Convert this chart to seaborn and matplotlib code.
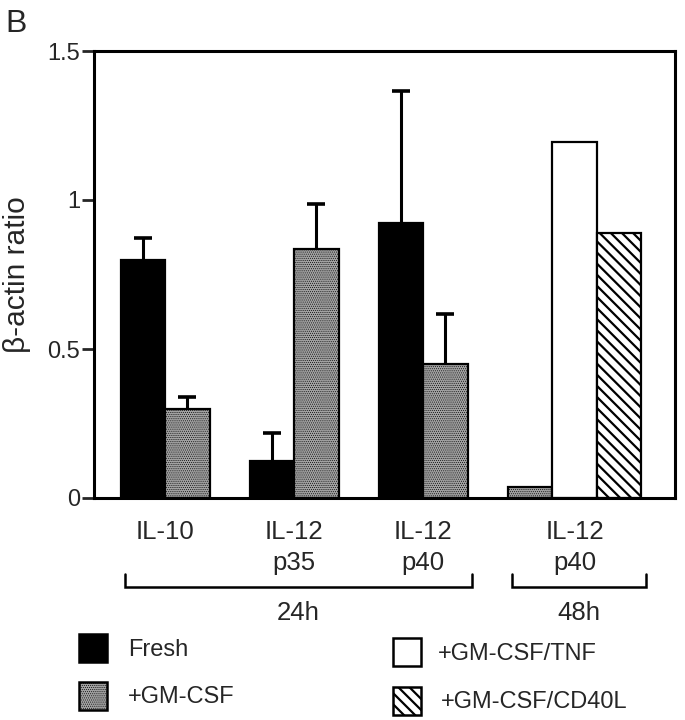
import numpy as np
import pandas as pd
import matplotlib
import matplotlib.pyplot as plt
import seaborn as sns
from matplotlib.patches import Rectangle
import matplotlib.transforms as mtransforms

matplotlib.use('Agg')

# ---- data ----
groups = ['IL-10', 'IL-12\np35', 'IL-12\np40', 'IL-12\np40']
group_time = ['24h', '24h', '24h', '48h']
treatments = ['Fresh', '+GM-CSF', '+GM-CSF/TNF', '+GM-CSF/CD40L']

bar_group = [0, 0, 1, 1, 2, 2, 3, 3, 3]
bar_treatment = ['Fresh', '+GM-CSF', 'Fresh', '+GM-CSF', 'Fresh', '+GM-CSF',
                 '+GM-CSF', '+GM-CSF/TNF', '+GM-CSF/CD40L']
bar_value = [0.80, 0.30, 0.124, 0.836, 0.923, 0.45, 0.037, 1.195, 0.89]
bar_err = [0.073, 0.04, 0.094, 0.151, 0.443, 0.167, np.nan, np.nan, np.nan]

# ---- styles ----
colors = {'Fresh': 'black', '+GM-CSF': '#a2a2a2',
          '+GM-CSF/TNF': 'white', '+GM-CSF/CD40L': 'white'}
hatches = {'Fresh': None, '+GM-CSF': '........',
           '+GM-CSF/TNF': None, '+GM-CSF/CD40L': '\\\\\\'}
hatch_lw = {'+GM-CSF': 0.4, '+GM-CSF/CD40L': 1.6}

sns.set_theme(style='white')
plt.rcParams['font.family'] = ['Liberation Sans', 'DejaVu Sans']


def style_hatch(p, t):
    if hatches[t]:
        p.set_hatch(hatches[t])
        if hasattr(p, 'set_hatch_linewidth'):
            p.set_hatch_linewidth(hatch_lw[t])
        else:
            p._hatch_linewidth = hatch_lw[t]


# layout: bar width = 1, gap between groups
margin, gap = 0.6, 0.9
sizes = [bar_group.count(g) for g in range(len(groups))]
starts = [margin + sum(sizes[:k]) + k * gap for k in range(len(groups))]
pos = []
seen = {}
for g in bar_group:
    i = seen.get(g, 0)
    pos.append(starts[g] + i + 0.5)
    seen[g] = i + 1

df = pd.DataFrame({'pos': pos, 'value': bar_value, 'err': bar_err,
                   'treatment': bar_treatment})

fig = plt.figure(figsize=(6.85, 7.2), dpi=100)
W, H = 685, 720
ax = fig.add_axes([94 / W, 1 - 498 / H, 581 / W, 447 / H])

sns.barplot(data=df, x='pos', y='value', hue='treatment', hue_order=treatments,
            palette=colors, native_scale=True, dodge=False, width=1,
            errorbar=None, edgecolor='black', linewidth=1.6, legend=False, ax=ax)

for cont, t in zip(ax.containers, treatments):
    for p in cont.patches:
        style_hatch(p, t)

# upward-only error bars (hide the lower cap)
m = df['err'].notna()
eb = ax.errorbar(df.loc[m, 'pos'], df.loc[m, 'value'],
                 yerr=[np.zeros(m.sum()), df.loc[m, 'err']],
                 fmt='none', ecolor='black', elinewidth=2.2, capsize=6.8,
                 capthick=2.6, zorder=1)
eb[1][0].set_visible(False)

ax.set_xlim(0, 13.06)
ax.set_ylim(0, 1.5)
ax.set_xticks([])
ax.set_xlabel('')
ax.set_yticks([0, 0.5, 1, 1.5])
ax.set_yticklabels(['0', '0.5', '1', '1.5'], fontsize=17)
ax.tick_params(axis='y', direction='out', length=9, width=2, left=True, pad=1)
for s in ax.spines.values():
    s.set_linewidth(2.2)
    s.set_color('black')
ax.set_ylabel('β-actin ratio', fontsize=21.5)
ax.yaxis.set_label_coords(-0.108, 0.5)

# group labels and time brackets below the axis
trans = mtransforms.blended_transform_factory(ax.transData, ax.transAxes)
for k, g in enumerate(groups):
    cx = starts[k] + sizes[k] / 2
    for j, line in enumerate(g.split('\n')):
        ax.text(cx, -0.076 - 0.07 * j, line, transform=trans, ha='center',
                va='center', fontsize=18.5)

for t in dict.fromkeys(group_time):
    ks = [k for k, gt in enumerate(group_time) if gt == t]
    x0 = starts[ks[0]] + 0.1
    x1 = starts[ks[-1]] + sizes[ks[-1]] + 0.1
    ax.plot([x0, x0, x1, x1], [-0.169, -0.198, -0.198, -0.169], transform=trans,
            color='black', lw=1.8, clip_on=False, solid_joinstyle='miter')
    ax.text((x0 + x1) / 2, -0.257, t, transform=trans, ha='center',
            va='center', fontsize=18.5)

# legend drawn as squares + text in figure pixels
leg_pos = {'Fresh': (79, 634, 128, 650), '+GM-CSF': (79, 682, 128, 697),
           '+GM-CSF/TNF': (393, 638, 438, 654), '+GM-CSF/CD40L': (393, 687, 441, 702)}
for t in treatments:
    sx, sy, tx, ty = leg_pos[t]
    r = Rectangle((sx / W, 1 - (sy + 28) / H), 28 / W, 28 / H,
                  transform=fig.transFigure, facecolor=colors[t],
                  edgecolor='black', linewidth=1.8)
    style_hatch(r, t)
    fig.patches.append(r)
    fig.text(tx / W, 1 - ty / H, t, ha='left', va='center', fontsize=17)

fig.text(16 / W, 1 - 24 / H, 'B', ha='center', va='center', fontsize=23)

fig.savefig('out.png', dpi=100)
